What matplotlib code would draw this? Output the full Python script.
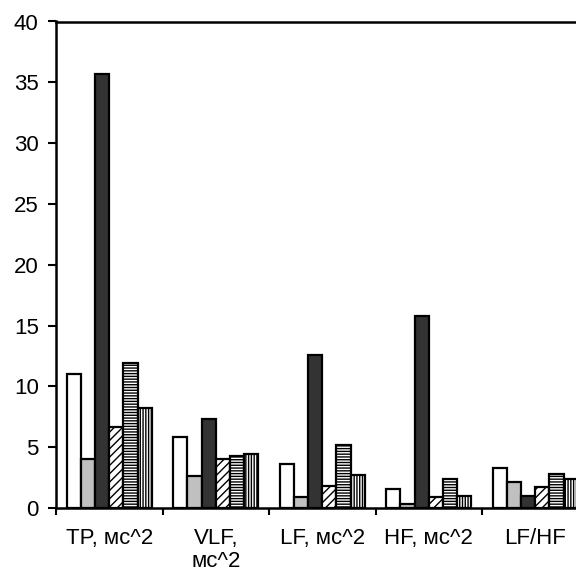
import matplotlib
matplotlib.use("Agg")
import matplotlib.pyplot as plt
import numpy as np

plt.rcParams['font.family'] = ['Liberation Sans', 'DejaVu Sans']
plt.rcParams['hatch.linewidth'] = 1.0

categories = ["TP, мс^2", "VLF,\nмс^2", "LF, мс^2", "HF, мс^2", "LF/HF"]
s1 = [11.0, 5.8, 3.6, 1.6, 3.3]
s2 = [4.0, 2.6, 0.9, 0.3, 2.1]
s3 = [35.7, 7.3, 12.6, 15.8, 1.0]
s4 = [6.7, 4.0, 1.8, 0.9, 1.7]
s5 = [11.9, 4.3, 5.2, 2.4, 2.8]
s6 = [8.2, 4.4, 2.7, 1.0, 2.4]
yticks = [0, 5, 10, 15, 20, 25, 30, 35, 40]

series = [s1, s2, s3, s4, s5, s6]
faces = ['white', '#c0c0c0', '#333333', 'white', 'white', 'white']
hatches = [None, None, None, '////', '------', '||||||']

fig = plt.figure(figsize=(5.76, 5.80), dpi=100)
ax = fig.add_axes([56/576, 72/580, 532.5/576, 486.5/580])

n = len(categories)
x = np.arange(n)
w = 1/7.5
for i, (vals, fc, h) in enumerate(zip(series, faces, hatches)):
    ax.bar(x + (i - 2.5) * w, vals, width=w, color=fc, edgecolor='black',
           linewidth=1.6, hatch=h)

ax.set_xlim(-0.5, n - 0.5)
ax.set_ylim(0, 40)
ax.set_yticks(yticks)
ax.set_yticklabels([str(t) for t in yticks], fontsize=16)
ax.set_xticks(np.arange(n + 1) - 0.5)
ax.set_xticklabels([])
ax.set_xticks(x, minor=True)
ax.set_xticklabels(categories, minor=True, fontsize=16, linespacing=1.1)
ax.tick_params(axis='x', which='minor', length=0, pad=14.5)
ax.tick_params(axis='x', which='major', length=5, width=1.5, direction='out')
ax.tick_params(axis='y', length=6, width=1.5, direction='out', pad=6.5)
for sp in ax.spines.values():
    sp.set_linewidth(1.8)
ax.spines['right'].set_visible(False)

fig.savefig("out.png", dpi=100)
